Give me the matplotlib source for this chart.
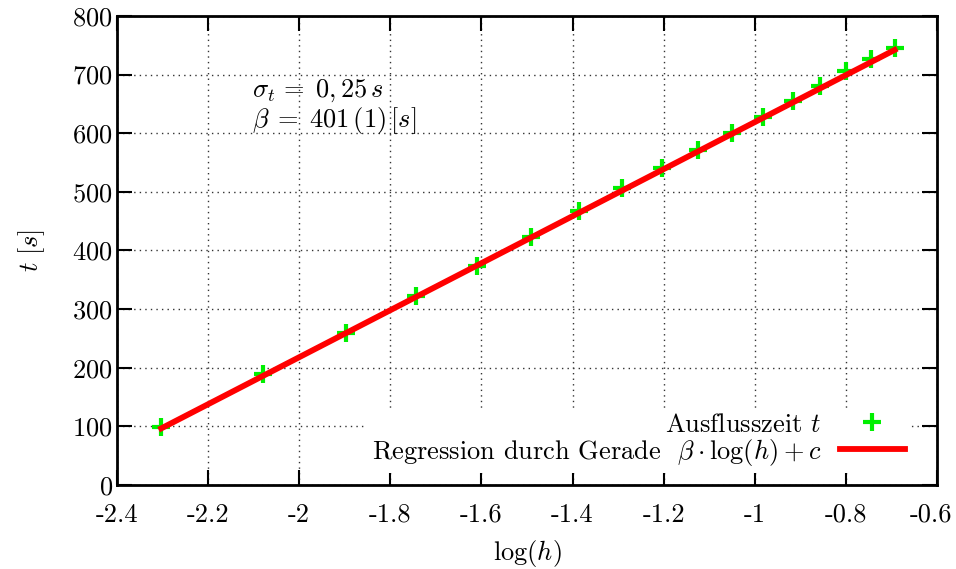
import numpy as np
import matplotlib
matplotlib.use("Agg")
import matplotlib.pyplot as plt
import matplotlib.transforms as mtransforms

# measured outflow time vs log of fill height
log_h = [-2.303, -2.079, -1.897, -1.743, -1.609, -1.492, -1.386, -1.291, -1.204,
         -1.124, -1.050, -0.981, -0.916, -0.856, -0.799, -0.744, -0.693]
t_s = [99, 189, 259, 322, 374, 423, 468, 507, 541,
       572, 601, 628, 655, 681, 706, 727, 746]

# regression parameters
beta = 401.0
c = 1020.0

x_ticks = [-2.4, -2.2, -2.0, -1.8, -1.6, -1.4, -1.2, -1.0, -0.8, -0.6]
x_labels = ["-2.4", "-2.2", "-2", "-1.8", "-1.6", "-1.4", "-1.2", "-1", "-0.8", "-0.6"]
y_ticks = [0, 100, 200, 300, 400, 500, 600, 700, 800]

plt.rcParams["font.family"] = "serif"
plt.rcParams["font.serif"] = ["cmr10"]
plt.rcParams["mathtext.fontset"] = "cm"
plt.rcParams["axes.unicode_minus"] = False
plt.rcParams["axes.formatter.use_mathtext"] = True

fig = plt.figure(figsize=(9.56, 5.69), dpi=100)
ax = fig.add_axes([117 / 956, 1 - 485 / 569, (937 - 117) / 956, (485 - 16) / 569])

ax.grid(True, linestyle=(0, (1, 3)), color="#333333", linewidth=1.0)
ax.set_axisbelow(True)

x_fit = np.array([log_h[0], log_h[-1]])
ax.plot(log_h, t_s, linestyle="none", marker="+", markersize=13, markeredgewidth=3,
        color="#00f000", label=r"Ausflusszeit $t$", zorder=3)
ax.plot(x_fit, beta * x_fit + c, color="#ff0000", linewidth=4.2,
        label=r"Regression durch Gerade  $\beta\cdot\log(h)+c$", zorder=4)

ax.set_xlim(-2.4, -0.6)
ax.set_ylim(0, 800)
ax.set_xticks(x_ticks)
ax.set_xticklabels(x_labels)
ax.set_yticks(y_ticks)
ax.tick_params(direction="in", length=11, width=1.5, top=True, right=True,
               labelsize=19)
ax.tick_params(axis="x", pad=13)
ax.tick_params(axis="y", pad=3)
for sp in ax.spines.values():
    sp.set_linewidth(2)

# keep the last x label inside the figure
last = ax.get_xticklabels()[-1]
last.set_transform(last.get_transform() + mtransforms.ScaledTranslation(-6 / 100, 0, fig.dpi_scale_trans))

ax.set_xlabel(r"$\log(h)$", fontsize=19, labelpad=8)
ax.set_ylabel(r"$t\ [s]$", fontsize=19, labelpad=18)

ax.text(0.165, 0.827, r"$\sigma_t\,=\;0,25\,s$", transform=ax.transAxes, fontsize=19)
ax.text(0.165, 0.763, r"$\beta\;=\;401\,(1)\,[s]$", transform=ax.transAxes, fontsize=19)

leg = ax.legend(loc="lower right", bbox_to_anchor=(0.967, 0.026), markerfirst=False,
                frameon=True, fontsize=19, handlelength=2.45, handletextpad=0.7,
                labelspacing=0.0, borderpad=0.2, borderaxespad=0)
leg.get_frame().set_edgecolor("none")
leg.get_frame().set_facecolor("white")
leg.get_frame().set_alpha(1)

fig.savefig("out.png", dpi=100)
